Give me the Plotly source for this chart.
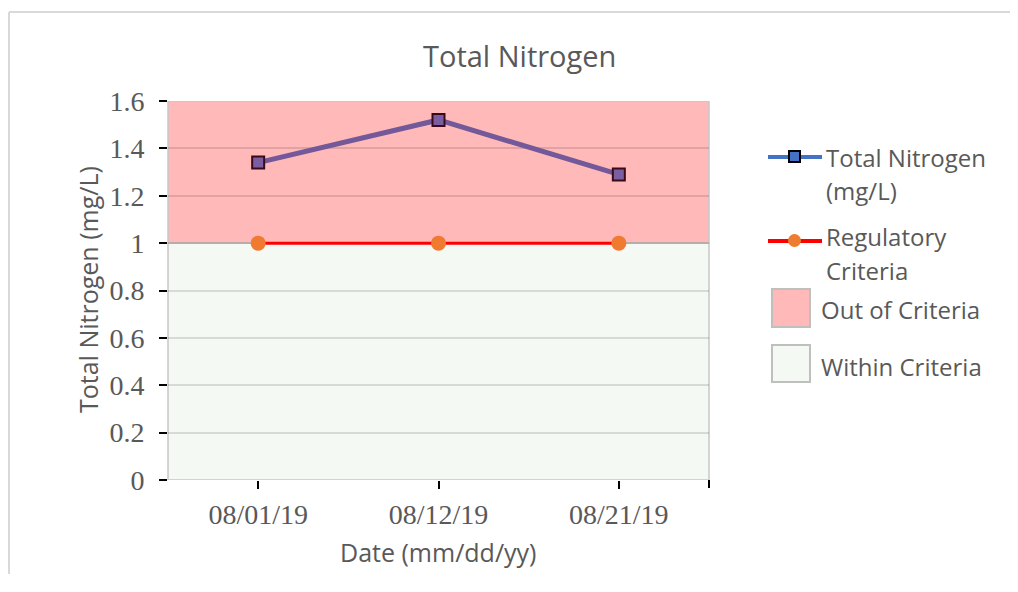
import plotly.graph_objects as go

# ── data ─────────────────────────────────────────────
dates = ["08/01/19", "08/12/19", "08/21/19"]
total_n = [1.34, 1.52, 1.29]
criteria = [1.0, 1.0, 1.0]
y_top = 1.6
y_ticks = [0, 0.2, 0.4, 0.6, 0.8, 1, 1.2, 1.4, 1.6]

# ── layout constants (viewport pixels) ───────────────
OFF = 8                      # page body margin
W, H = 1018 - OFF, 592 - 2 * OFF - 10
L, R, T, B = 168, 709, 101, 480
GRAY = "#595959"
SANS = "Open Sans, Liberation Sans, sans-serif"
SERIF = "Liberation Serif, Times New Roman, serif"


def px(x):
    return (x - L) / (R - L)


def py(y):
    return (B - y) / (B - T)


fig = go.Figure()

fig.add_scatter(
    x=dates, y=criteria, mode="lines+markers",
    line=dict(color="#FF0000", width=3),
    marker=dict(color="#F07A30", size=15),
    showlegend=False,
)
fig.add_scatter(
    x=dates, y=total_n, mode="lines+markers",
    line=dict(color="#73589A", width=5),
    marker=dict(symbol="square", color="#7B5EA2", size=12,
                line=dict(color="#3A0A18", width=2)),
    showlegend=False,
)

shapes = [
    # shaded bands
    dict(type="rect", xref="paper", yref="y", x0=0, x1=1, y0=criteria[0], y1=y_top,
         fillcolor="#FFB9B9", line=dict(color="#C8C8C8", width=1.5), layer="below"),
    dict(type="rect", xref="paper", yref="y", x0=0, x1=1, y0=0, y1=criteria[0],
         fillcolor="#F5F9F3", line=dict(color="#C8C8C8", width=1.5), layer="below"),
    # end tick on x axis
    dict(type="line", xref="paper", yref="paper", x0=1, x1=1, y0=0, y1=py(B + 8),
         line=dict(color="black", width=2)),
    # outer chart frame (only left and top edges are inside the picture)
    dict(type="line", xref="paper", yref="paper", x0=px(9), x1=px(9),
         y0=py(12), y1=py(H + OFF), line=dict(color="#D9D9D9", width=2)),
    dict(type="line", xref="paper", yref="paper", x0=px(9), x1=px(W + OFF),
         y0=py(12), y1=py(12), line=dict(color="#D9D9D9", width=2)),
]

# ── hand-drawn legend ────────────────────────────────
ann = []
# Total Nitrogen
shapes.append(dict(type="line", xref="paper", yref="paper", x0=px(768), x1=px(822),
                   y0=py(157), y1=py(157), line=dict(color="#4472C4", width=4)))
shapes.append(dict(type="rect", xref="paper", yref="paper", x0=px(789), x1=px(800),
                   y0=py(162), y1=py(151), fillcolor="#4472C4",
                   line=dict(color="black", width=2)))
ann.append(dict(x=px(824), y=py(157), text="Total Nitrogen", xanchor="left"))
ann.append(dict(x=px(824), y=py(190), text="(mg/L)", xanchor="left"))
# Regulatory Criteria
shapes.append(dict(type="line", xref="paper", yref="paper", x0=px(768), x1=px(822),
                   y0=py(241), y1=py(241), line=dict(color="#FF0000", width=4)))
shapes.append(dict(type="circle", xref="paper", yref="paper", x0=px(788), x1=px(801),
                   y0=py(247), y1=py(234), fillcolor="#ED7D31",
                   line=dict(color="#ED7D31", width=0)))
ann.append(dict(x=px(824), y=py(237), text="Regulatory", xanchor="left"))
ann.append(dict(x=px(824), y=py(270), text="Criteria", xanchor="left"))
# boxes
shapes.append(dict(type="rect", xref="paper", yref="paper", x0=px(772), x1=px(810),
                   y0=py(327), y1=py(289), fillcolor="#FFB9B9",
                   line=dict(color="#BFBFBF", width=2)))
ann.append(dict(x=px(819), y=py(309), text="Out of Criteria", xanchor="left"))
shapes.append(dict(type="rect", xref="paper", yref="paper", x0=px(772), x1=px(810),
                   y0=py(382), y1=py(345), fillcolor="#F5F9F3",
                   line=dict(color="#BFBFBF", width=2)))
ann.append(dict(x=px(819), y=py(366), text="Within Criteria", xanchor="left"))

for a in ann:
    a.update(xref="paper", yref="paper", showarrow=False, yanchor="middle",
             font=dict(family=SANS, size=24, color=GRAY))

# axis titles / chart title as annotations for exact placement
ann += [
    dict(x=px(519), y=py(55), text="Total Nitrogen",
         font=dict(family=SANS, size=29, color=GRAY)),
    dict(x=px(438), y=py(552), text="Date (mm/dd/yy)",
         font=dict(family=SANS, size=25, color=GRAY)),
    dict(x=px(88), y=py(290), text="Total Nitrogen (mg/L)", textangle=-90,
         font=dict(family=SANS, size=25, color=GRAY)),
]
for a in ann[-3:]:
    a.update(xref="paper", yref="paper", showarrow=False,
             xanchor="center", yanchor="middle")

fig.update_layout(
    width=W, height=H,
    margin=dict(l=L - OFF, r=W - (R - OFF), t=T - OFF, b=H - (B - OFF), pad=0),
    paper_bgcolor="white", plot_bgcolor="white",
    shapes=shapes, annotations=ann, showlegend=False,
    xaxis=dict(
        type="category", range=[-0.5, 2.5], showgrid=False, zeroline=False,
        ticks="outside", ticklen=8, tickwidth=2, tickcolor="black",
        tickfont=dict(family=SERIF, size=28, color=GRAY),
        ticklabelstandoff=1, showline=False,
    ),
    yaxis=dict(
        range=[0, y_top], tickvals=y_ticks, showgrid=True,
        gridcolor="rgba(0,0,0,0.12)", gridwidth=1.5, zeroline=False,
        ticks="outside", ticklen=8, tickwidth=2, tickcolor="black",
        tickfont=dict(family=SERIF, size=28, color=GRAY),
        ticklabelstandoff=9, showline=False,
    ),
)

fig.write_html("out.html")
